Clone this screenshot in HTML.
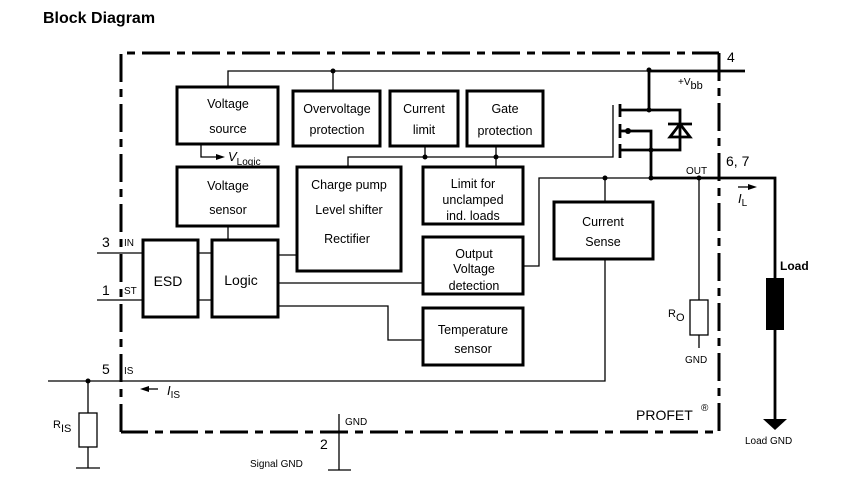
<!DOCTYPE html>
<html><head><meta charset="utf-8"><style>
html,body{margin:0;padding:0;background:#fff;}
svg{display:block;font-family:"Liberation Sans",Arial,sans-serif;}
</style></head><body>
<svg width="851" height="503" viewBox="0 0 851 503" xmlns="http://www.w3.org/2000/svg">
<text x="43" y="23" font-size="16" font-weight="bold" fill="#000">Block Diagram</text>
<!-- dashed border -->
<g stroke="#000" stroke-width="3" fill="none" stroke-dasharray="28,7,8,7">
<path d="M121,432 L121,53 L719,53"/>
<path d="M719,53 L719,432 L121,432"/>
</g>
<g stroke="#000" stroke-width="3" fill="#fff">
<rect x="177" y="87" width="101" height="57"/>
<rect x="293" y="91" width="87" height="55"/>
<rect x="390" y="91" width="68" height="55"/>
<rect x="467" y="91" width="76" height="55"/>
<rect x="177" y="167" width="101" height="59"/>
<rect x="297" y="167" width="104" height="104"/>
<rect x="423" y="167" width="100" height="57"/>
<rect x="554" y="202" width="99" height="57"/>
<rect x="143" y="240" width="55" height="77"/>
<rect x="212" y="240" width="66" height="77"/>
<rect x="423" y="237" width="100" height="57"/>
<rect x="423" y="308" width="100" height="57"/>
</g>
<g stroke="#000" stroke-width="1.3" fill="none">
<path d="M228,87 L228,71 L650,71"/>
<path d="M333,71 L333,91"/>
<path d="M348,167 L348,157 L613,157 L613,105"/>
<path d="M425,146 L425,157"/>
<path d="M496,146 L496,167"/>
<path d="M201,144 L201,157 L218,157"/>
<path d="M228,226 L228,240"/>
<path d="M198,253 L212,253 M198,300 L212,300"/>
<path d="M97,253 L143,253 M97,300 L143,300"/>
<path d="M278,255 L297,255"/>
<path d="M278,283 L423,283"/>
<path d="M278,306 L388,306 L388,340 L423,340"/>
<path d="M523,266 L539,266 L539,178 L651,178"/>
<path d="M605,178 L605,202"/>
<path d="M605,259 L605,381 L48,381"/>
<path d="M88,381 L88,468 M76,468 L100,468"/>
<path d="M699,178 L699,300 M699,335 L699,348"/>
<path d="M339,414 L339,470 M328,470 L351,470"/>
<path d="M145,389 L158,389"/>
<path d="M738,187 L752,187"/>
</g>
<g fill="#000">
<polygon points="225,157 216,154 216,160"/>
<polygon points="140,389 149,386 149,392"/>
<polygon points="757,187 748,184 748,190"/>
<circle cx="333" cy="71" r="2.5"/><circle cx="425" cy="157" r="2.5"/><circle cx="496" cy="157" r="2.5"/>
<circle cx="649" cy="70" r="2.5"/><circle cx="649" cy="110" r="2.5"/><circle cx="651" cy="150" r="2.5"/>
<circle cx="651" cy="178" r="2.5"/><circle cx="605" cy="178" r="2.5"/><circle cx="699" cy="178" r="2.5"/>
<circle cx="88" cy="381" r="2.5"/>
</g>
<rect x="79" y="413" width="18" height="34" fill="#fff" stroke="#000" stroke-width="1.3"/>
<rect x="690" y="300" width="18" height="35" fill="#fff" stroke="#000" stroke-width="1.3"/>
<!-- MOSFET -->
<g stroke="#000" stroke-width="2.8" fill="none">
<path d="M650,71 L745,71"/>
<path d="M649,70 L649,110 L620,110 M649,110 L680,110 L680,150 L651,150 L620,150"/>
<path d="M620,131 L651,131 L651,178 L775,178 L775,278 M775,330 L775,420"/>
<path d="M620,104 L620,117 M620,124 L620,138 M620,144 L620,158"/>
<path d="M668,124 L692,124 M680,124 L670,137 L690,137 Z"/>
</g>
<circle cx="628" cy="131" r="3" fill="#000"/>
<rect x="766" y="278" width="18" height="52" fill="#000"/>
<polygon points="763,419 787,419 775,430" fill="#000"/>
<!-- text -->
<g font-size="12.5" fill="#000" text-anchor="middle">
<text x="228" y="108">Voltage</text><text x="228" y="133">source</text>
<text x="337" y="113">Overvoltage</text><text x="337" y="134">protection</text>
<text x="424" y="113">Current</text><text x="424" y="134">limit</text>
<text x="505" y="113">Gate</text><text x="505" y="135">protection</text>
<text x="228" y="190">Voltage</text><text x="228" y="214">sensor</text>
<text x="349" y="189">Charge pump</text><text x="349" y="214">Level shifter</text><text x="347" y="243">Rectifier</text>
<text x="473" y="188">Limit for</text><text x="473" y="204">unclamped</text><text x="473" y="220">ind. loads</text>
<text x="603" y="226">Current</text><text x="603" y="246">Sense</text>
<text x="474" y="258">Output</text><text x="474" y="273">Voltage</text><text x="474" y="290">detection</text>
<text x="473" y="334">Temperature</text><text x="473" y="353">sensor</text>
<text x="168" y="286" font-size="14">ESD</text>
<text x="241" y="285" font-size="14">Logic</text>
</g>
<g fill="#000" font-size="14">
<text x="102" y="247">3</text><text x="102" y="295">1</text><text x="102" y="374">5</text>
<text x="320" y="449">2</text>
<text x="727" y="62">4</text>
<text x="726" y="166">6, 7</text>
<text x="636" y="420">PROFET</text><text x="701" y="411" font-size="10">®</text>
</g>
<g fill="#000" font-size="10">
<text x="124" y="246">IN</text><text x="124" y="294">ST</text><text x="124" y="374">IS</text>
<text x="345" y="425">GND</text>
<text x="250" y="467">Signal GND</text>
<text x="686" y="174">OUT</text>
<text x="685" y="363">GND</text>
<text x="745" y="444">Load GND</text>
<text x="678" y="85">+V<tspan font-size="11" dy="4">bb</tspan></text>
<text x="53" y="428" font-size="11">R<tspan dy="4">IS</tspan></text>
<text x="668" y="317" font-size="11">R<tspan dy="4">O</tspan></text>
</g>
<text x="780" y="270" font-size="12" font-weight="bold">Load</text>
<text x="228" y="161" font-size="13" font-style="italic">V<tspan font-style="normal" font-size="10" dy="4">Logic</tspan></text>
<text x="167" y="395" font-size="13" font-style="italic">I<tspan font-style="normal" font-size="10" dy="3">IS</tspan></text>
<text x="738" y="203" font-size="13" font-style="italic">I<tspan font-style="normal" font-size="10" dy="3">L</tspan></text>
</svg>
</body></html>
